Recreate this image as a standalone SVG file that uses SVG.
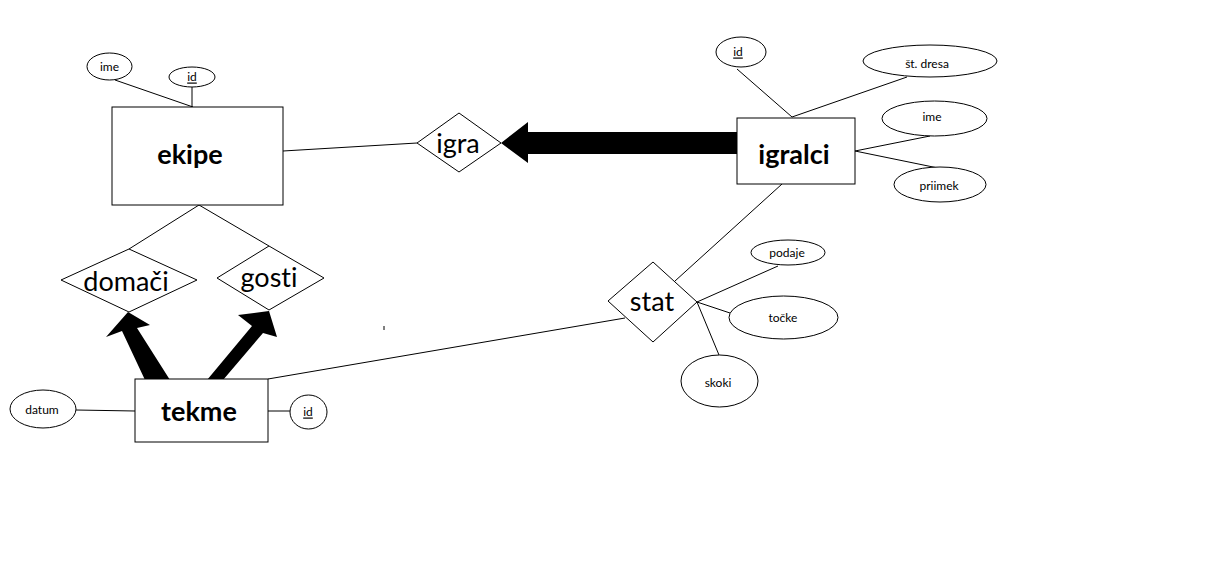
<svg xmlns="http://www.w3.org/2000/svg" width="1213" height="563" viewBox="0 0 1213 563">
<style>
.s{fill:#fff;stroke:#000;stroke-width:1}
.l{stroke:#000;stroke-width:1;fill:none}
.t{font-family:Lato,"Open Sans",sans-serif;fill:#000;text-anchor:middle;dominant-baseline:central;font-variant-ligatures:none}
.big{font-size:27px;font-weight:bold}
.rel{font-size:27px}
.sm{font-size:12px}
.u{text-decoration:underline}
</style>
<rect width="1213" height="563" fill="#fff"/>
<g id="connectors">
<line class="l" x1="115" y1="80" x2="193" y2="107"/>
<line class="l" x1="192" y1="87" x2="192" y2="108"/>
<line class="l" x1="283" y1="151" x2="417" y2="143"/>
<line class="l" x1="737" y1="69" x2="792" y2="117"/>
<line class="l" x1="907" y1="77" x2="792" y2="117"/>
<line class="l" x1="930" y1="136" x2="855" y2="151"/>
<line class="l" x1="855" y1="151" x2="938" y2="168"/>
<line class="l" x1="782" y1="184" x2="675" y2="281"/>
<line class="l" x1="625" y1="318" x2="268" y2="379"/>
<line class="l" x1="697" y1="302" x2="778" y2="266"/>
<line class="l" x1="697" y1="302" x2="730" y2="313"/>
<line class="l" x1="697" y1="302" x2="719" y2="355"/>
<line class="l" x1="199" y1="205" x2="129" y2="249"/>
<line class="l" x1="199" y1="205" x2="269" y2="246"/>
<line class="l" x1="76" y1="410" x2="135" y2="411"/>
<line class="l" x1="268" y1="411" x2="290" y2="411"/>
<line class="l" x1="384" y1="326" x2="384" y2="330"/>
<polygon fill="#000" points="737,132 528,132 528,122 501,143 528,163 528,154 737,154"/>
<polygon fill="#000" points="145,380 122,331 106,337 128,312 150,325 137,328 170,380"/>
<polygon fill="#000" points="207,380 252,326 238,315 269,311 277,337 263,333 223,380"/>
</g>
<g id="ekipe">
<rect class="s" x="112" y="107" width="171" height="98"/>
<text class="t big" x="190" y="153">ekipe</text>
</g>
<g id="ekipe-ime">
<ellipse class="s" cx="109.5" cy="66.5" rx="22.5" ry="13.5"/>
<text class="t sm" x="109.5" y="66">ime</text>
</g>
<g id="ekipe-id">
<ellipse class="s" cx="192" cy="77" rx="23" ry="10"/>
<text class="t sm u" x="192" y="76">id</text>
</g>
<g id="igra">
<polygon class="s" points="417,143 459,113 501,143 459,172"/>
<text class="t rel" x="458" y="142">igra</text>
</g>
<g id="igralci">
<rect class="s" x="737" y="118" width="118" height="66"/>
<text class="t big" x="794" y="153">igralci</text>
</g>
<g id="igralci-id">
<ellipse class="s" cx="741" cy="52" rx="25" ry="15"/>
<text class="t sm u" x="738" y="51">id</text>
</g>
<g id="st-dresa">
<ellipse class="s" cx="930" cy="61" rx="67" ry="16"/>
<text class="t sm" x="927" y="63">št. dresa</text>
</g>
<g id="igralci-ime">
<ellipse class="s" cx="934.5" cy="118.5" rx="52.5" ry="17.5"/>
<text class="t sm" x="932" y="116">ime</text>
</g>
<g id="priimek">
<ellipse class="s" cx="940" cy="184.5" rx="46" ry="17.5"/>
<text class="t sm" x="939" y="185">priimek</text>
</g>
<g id="stat">
<polygon class="s" points="608,301 653,262 697,302 653,342"/>
<text class="t rel" x="652" y="300">stat</text>
</g>
<g id="podaje">
<ellipse class="s" cx="788" cy="252.5" rx="37" ry="12.5"/>
<text class="t sm" x="787" y="252">podaje</text>
</g>
<g id="tocke">
<ellipse class="s" cx="783.5" cy="317.5" rx="54.5" ry="21.5"/>
<text class="t sm" x="783" y="317">točke</text>
</g>
<g id="skoki">
<ellipse class="s" cx="719.5" cy="381" rx="38.5" ry="26"/>
<text class="t sm" x="718" y="382">skoki</text>
</g>
<g id="domaci">
<polygon class="s" points="61,280 129,249 197,280 129,312"/>
<text class="t rel" x="126" y="280">domači</text>
</g>
<g id="gosti">
<polygon class="s" points="217,278 269,246 324,278 269,310"/>
<text class="t rel" x="269" y="276">gosti</text>
</g>
<g id="tekme">
<rect class="s" x="135" y="379" width="133" height="63"/>
<text class="t big" x="199" y="410">tekme</text>
</g>
<g id="datum">
<ellipse class="s" cx="43" cy="409" rx="33" ry="19"/>
<text class="t sm" x="42" y="409">datum</text>
</g>
<g id="tekme-id">
<ellipse class="s" cx="308.5" cy="412" rx="18.5" ry="17"/>
<text class="t sm u" x="308" y="411">id</text>
</g>
</svg>
